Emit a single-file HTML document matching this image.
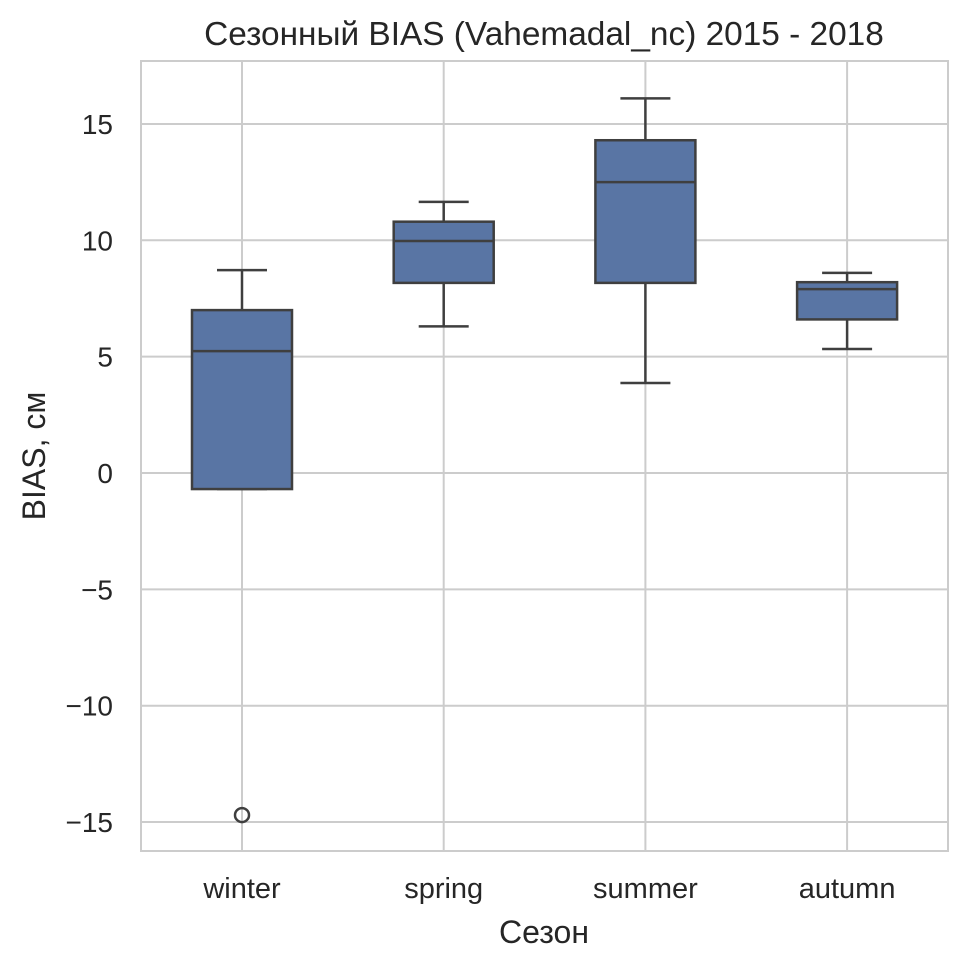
<!DOCTYPE html>
<html><head><meta charset="utf-8"><style>
body{margin:0;background:#fff;}
svg text{font-family:"Liberation Sans","DejaVu Sans",sans-serif;fill:#262626;}
</style></head><body>
<svg id="chart" width="968" height="968">
<text x="544" y="45" font-size="33.4" text-anchor="middle">Сезонный BIAS (Vahemadal_nc) 2015 - 2018</text>
<g id="grid"></g><g id="boxes"></g>
<rect x="141" y="61" width="807" height="790" fill="none" stroke="#cccccc" stroke-width="2"/>
<text x="544" y="943" font-size="32" text-anchor="middle">Сезон</text>
<text transform="translate(45,456) rotate(-90)" font-size="32" text-anchor="middle">BIAS, см</text>
</svg>
<script>
const categories=["winter","spring","summer","autumn"];
const whiskerLow=[-0.69,6.3,3.87,5.33];
const q1=[-0.69,8.17,8.17,6.6];
const median=[5.24,9.97,12.5,7.9];
const q3=[7.0,10.8,14.3,8.2];
const whiskerHigh=[8.72,11.65,16.1,8.6];
const outlierCats=[0];
const outlierVals=[-14.7];
const yTicks=[15,10,5,0,-5,-10,-15];
const yTickLabels=["15","10","5","0","−5","−10","−15"];
const NS="http://www.w3.org/2000/svg";
const y=v=>473-v*23.27;
const x=i=>242+i*201.7;
function mk(tag,attrs,parent){const e=document.createElementNS(NS,tag);for(const k in attrs)e.setAttribute(k,attrs[k]);parent.appendChild(e);return e;}
const grid=document.getElementById('grid'),boxes=document.getElementById('boxes'),svg=document.getElementById('chart');
yTicks.forEach((t,i)=>{
 const l=mk('line',{x1:141,x2:948,y1:y(t),y2:y(t),stroke:'#cccccc','stroke-width':2},grid);
 
 
 const tx=mk('text',{x:113,y:y(t)+10,'font-size':28,'text-anchor':'end'},svg);
 tx.textContent=yTickLabels[i];
 
 
});
categories.forEach((c,i)=>{
 const l=mk('line',{x1:x(i),x2:x(i),y1:61,y2:851,stroke:'#cccccc','stroke-width':2},grid);
 
 
 const tx=mk('text',{x:x(i),y:898,'font-size':29,'text-anchor':'middle'},svg);
 tx.textContent=c;
 
 
 const g=mk('g',{},boxes);
 
 
 const s={stroke:'#3f3f3f','stroke-width':2.5};
 mk('line',Object.assign({x1:x(i),x2:x(i),y1:y(q3[i]),y2:y(whiskerHigh[i])},s),g);
 mk('line',Object.assign({x1:x(i),x2:x(i),y1:y(q1[i]),y2:y(whiskerLow[i])},s),g);
 mk('line',Object.assign({x1:x(i)-25,x2:x(i)+25,y1:y(whiskerHigh[i]),y2:y(whiskerHigh[i])},s),g);
 mk('line',Object.assign({x1:x(i)-25,x2:x(i)+25,y1:y(whiskerLow[i]),y2:y(whiskerLow[i])},s),g);
 mk('rect',Object.assign({x:x(i)-50,y:y(q3[i]),width:100,height:y(q1[i])-y(q3[i]),fill:'#5975a4'},s),g);
 mk('line',Object.assign({x1:x(i)-50,x2:x(i)+50,y1:y(median[i]),y2:y(median[i])},s),g);
});
outlierCats.forEach((ci,k)=>{
 const c=mk('circle',{cx:x(ci),cy:y(outlierVals[k]),r:7,fill:'none',stroke:'#3f3f3f','stroke-width':2.5},boxes);
 
 
});
</script>
</body></html>
